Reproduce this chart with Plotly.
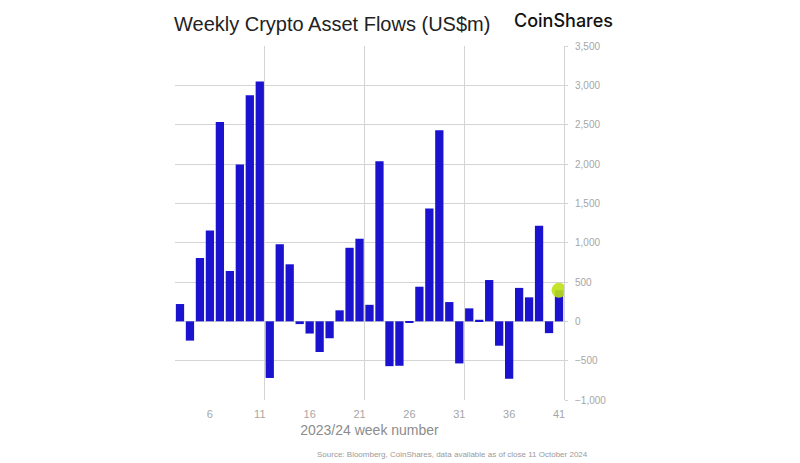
import plotly.graph_objects as go

# weekly flows, weeks 3..41 (US$m)
weeks = list(range(3, 42))
flows = [220, -245, 805, 1155, 2535, 640, 1995, 2875, 3050, -720,
         980, 725, -35, -155, -390, -215, 140, 935, 1050, 210,
         2035, -570, -565, -20, 440, 1435, 2430, 245, -535, 165,
         20, 525, -310, -730, 425, 305, 1215, -150, 395]
tick_weeks = [6, 11, 16, 21, 26, 31, 36, 41]
grid_weeks = [11.5, 21.5, 31.5]
y_ticks = [-1000, -500, 0, 500, 1000, 1500, 2000, 2500, 3000, 3500]

# highlighted latest week
hl_week = [weeks[-1]]
hl_value = [flows[-1]]

fig = go.Figure()
fig.add_trace(go.Bar(x=weeks, y=flows, marker_color="#1a12cf",
                     marker_line_width=0, showlegend=False))
fig.add_trace(go.Scatter(x=hl_week, y=hl_value, mode="markers",
                         marker=dict(size=15, color="rgba(190,225,20,0.9)"),
                         showlegend=False))

# the page body adds an 8px offset, so margins are trimmed to compensate
fig.update_layout(
    width=800, height=463,
    margin=dict(l=167, r=244, t=38, b=71),
    paper_bgcolor="white", plot_bgcolor="white",
    bargap=0.17,
    font=dict(family="Liberation Sans, Arial, sans-serif", color="#999"),
)
fig.update_xaxes(
    range=[2.5, 41.5], tickvals=tick_weeks, showgrid=False, zeroline=False,
    tickfont=dict(size=11, color="#a6a6a6"), ticks="", ticklabelstandoff=6,
    title=dict(text="2023/24 week number", font=dict(size=14, color="#8c8c8c"), standoff=6),
    minor=dict(tickvals=grid_weeks, showgrid=True, gridcolor="#d4d4d4", gridwidth=1),
)
fig.update_yaxes(
    range=[-1000, 3500], tickvals=y_ticks, side="right", tickformat=",",
    showgrid=True, gridcolor="#d4d4d4", zeroline=False,
    showline=True, linecolor="#d4d4d4", linewidth=1,
    ticks="outside", ticklen=3, tickcolor="#d4d4d4", ticklabelstandoff=5,
    tickfont=dict(size=10, color="#a6a6a6"),
)

fig.add_annotation(text="Weekly Crypto Asset Flows (US$m)", xref="paper", yref="paper",
                   x=0, y=1, xanchor="left", yanchor="bottom", yshift=9, xshift=-3, showarrow=False,
                   font=dict(size=20, color="#222", family="Liberation Sans, Arial, sans-serif"))
fig.add_annotation(text="CoinShares", xref="paper", yref="paper",
                   x=1.145, y=1, xanchor="right", yanchor="bottom", yshift=13, xshift=-5, showarrow=False,
                   font=dict(size=18, color="#111", weight=500, family="Inter, Roboto, sans-serif"))
fig.add_annotation(text="Source: Bloomberg, CoinShares, data available as of close 11 October 2024",
                   xref="paper", yref="paper", x=1.067, y=0, xanchor="right", yanchor="top",
                   yshift=-48, showarrow=False,
                   font=dict(size=8, color="#9a9a9a"))

fig.write_html("out.html")
